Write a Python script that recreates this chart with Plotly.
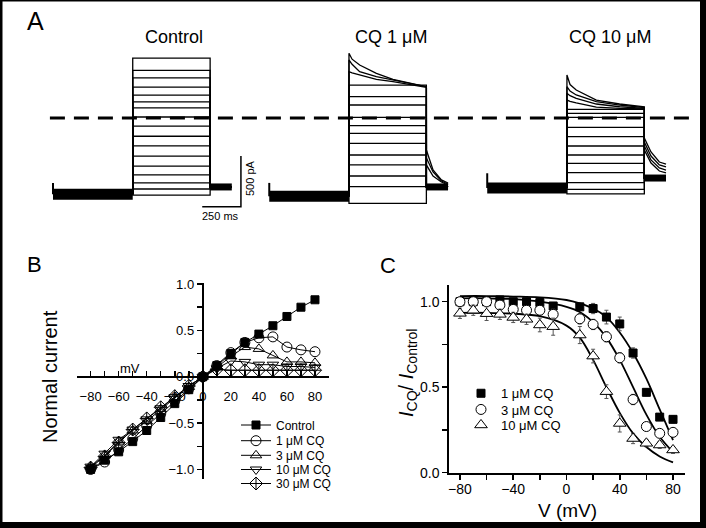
import plotly.graph_objects as go

W, H = 706, 528
def fx(px): return px / W
def fy(py): return 1 - py / H

FONT = "Liberation Sans, Arial, sans-serif"

# ---------------- Panel A data (ms, pA) ----------------
protocol_ms = [0, 515, 1015, 1155]          # sweep start, step on, step off, sweep end
group_names = ["Control", "CQ 1 μM", "CQ 10 μM"]
group_start_ms = [0, 1397, 2805]
holding_pA = [-752, -772, -690]
spike_pA = [-640, -640, -545]
tail_pA = [-680, -680, -592]

control_steps_pA = [590, 470, 395, 305, 225, 160, 100, 10, -80, -180, -275, -375, -475, -560, -640, -700, -760]
cq1_steps_pA = [325, 210, 128, 7, -76, -151, -250, -365, -463, -572, -677, -841]
cq10_steps_pA = [85, 45, 7, -92, -184, -276, -365, -447, -539, -638, -703, -749]

cq1_decay_t = [0, 20, 69, 177, 284, 500]
cq1_decay_pA = [[638, 580, 523, 441, 382, 309],
                [572, 530, 457, 407, 375, 309],
                [457, 445, 424, 382, 359, 303]]
cq1_tail_t = [0, 43, 97, 140]
cq1_tail_pA = [[-316, -513, -611, -641],
               [-394, -532, -621, -651],
               [-463, -572, -631, -661]]

cq10_decay_t = [0, 20, 60, 190, 340, 500]
cq10_decay_pA = [[424, 330, 276, 177, 138, 111],
                 [309, 265, 227, 161, 128, 102],
                 [244, 220, 194, 138, 111, 96],
                 [177, 165, 148, 108, 94, 89]]
cq10_tail_t = [0, 43, 97, 140]
cq10_tail_pA = [[-197, -335, -434, -454],
                [-237, -375, -463, -483],
                [-276, -414, -493, -513],
                [-316, -444, -523, -542]]

zero_line_ms = [-20, 4130]
scalebar_ms = [964, 1214, 1214]
scalebar_pA = [-875, -875, -375]

# ---------------- Panel B data ----------------
iv_mV = [-80, -70, -60, -50, -40, -30, -20, -10, 0, 10, 20, 30, 40, 50, 60, 70, 80]
iv_series = ["Control", "1 μM CQ", "3 μM CQ", "10 μM CQ", "30 μM CQ"]
iv_control = [-1.0, -0.9, -0.81, -0.7, -0.58, -0.44, -0.29, -0.14, 0, 0.12, 0.25, 0.37, 0.46, 0.55, 0.65, 0.75, 0.83]
iv_cq1 = [-1.0, -0.92, -0.79, -0.67, -0.53, -0.40, -0.26, -0.13, 0, 0.12, 0.26, 0.37, 0.42, 0.43, 0.32, 0.29, 0.27]
iv_cq3 = [-0.97, -0.85, -0.7, -0.58, -0.48, -0.35, -0.23, -0.11, 0, 0.1, 0.22, 0.32, 0.3, 0.23, 0.16, 0.16, 0.15]
iv_cq10 = [-0.97, -0.83, -0.68, -0.57, -0.46, -0.34, -0.22, -0.1, 0, 0.09, 0.17, 0.16, 0.13, 0.13, 0.11, 0.11, 0.1]
iv_cq30 = [-0.98, -0.86, -0.71, -0.57, -0.45, -0.33, -0.21, -0.1, 0, 0.08, 0.07, 0.07, 0.07, 0.07, 0.07, 0.07, 0.07]

# ---------------- Panel C data ----------------
ratio_mV = [-80, -70, -60, -50, -40, -30, -20, -10, 10, 20, 30, 40, 50, 60, 70, 80]
ratio_series = ["1 μM CQ", "3 μM CQ", "10 μM CQ"]
ratio_cq1 = [1.0, 1.0, 1.0, 1.01, 1.0, 1.0, 0.995, 0.975, 0.97, 0.96, 0.91, 0.87, 0.70, 0.47, 0.325, 0.312]
ratio_cq3 = [1.0, 1.0, 1.0, 0.98, 0.955, 0.95, 0.95, 0.926, 0.90, 0.867, 0.795, 0.672, 0.428, 0.27, 0.23, 0.236]
ratio_cq10 = [0.932, 0.95, 0.93, 0.926, 0.908, 0.897, 0.864, 0.854, 0.805, 0.682, 0.474, 0.288, 0.2, 0.172, 0.162, 0.133]
err_cq1 = [0.01, 0.01, 0.01, 0.01, 0.01, 0.01, 0.02, 0.02, 0.02, 0.03, 0.04, 0.04, 0.03, 0.02, 0.02, 0.02]
err_cq3 = [0.01, 0.01, 0.01, 0.02, 0.02, 0.02, 0.02, 0.03, 0.03, 0.03, 0.03, 0.03, 0.03, 0.02, 0.02, 0.02]
err_cq10 = [0.03, 0.03, 0.04, 0.03, 0.03, 0.03, 0.04, 0.05, 0.05, 0.04, 0.04, 0.05, 0.03, 0.02, 0.02, 0.02]

fit_mV = [-80, -60, -40, -20, 0, 10, 20, 30, 40, 50, 60, 70, 80]
fit_cq1 = [1.033, 1.033, 1.03, 1.025, 1.01, 0.99, 0.96, 0.91, 0.82, 0.70, 0.55, 0.37, 0.19]
fit_cq3 = [1.02, 1.02, 1.015, 1.0, 0.97, 0.94, 0.88, 0.79, 0.66, 0.5, 0.34, 0.21, 0.12]
fit_cq10 = [0.935, 0.935, 0.93, 0.915, 0.86, 0.79, 0.66, 0.5, 0.35, 0.23, 0.15, 0.095, 0.06]

fig = go.Figure()

# ---------------- Panel A traces ----------------
t0, ton, toff, tend = protocol_ms
BLK = "black"

def add_a(x, y, width=1.3, dash=None):
    fig.add_trace(go.Scatter(x=x, y=y, mode="lines", xaxis="x", yaxis="y",
                             line=dict(color=BLK, width=width, dash=dash),
                             showlegend=False, hoverinfo="skip"))

flat_sets = [control_steps_pA, cq1_steps_pA, cq10_steps_pA]
decay_sets = [([], [], [], []), (cq1_decay_t, cq1_decay_pA, cq1_tail_t, cq1_tail_pA),
              (cq10_decay_t, cq10_decay_pA, cq10_tail_t, cq10_tail_pA)]

for g in range(3):
    s = group_start_ms[g]
    hold, tail = holding_pA[g], tail_pA[g]
    add_a([s + t0, s + ton], [hold, hold], width=11)
    add_a([s + toff, s + tend], [tail, tail], width=7)
    add_a([s + t0, s + t0], [spike_pA[g], hold], width=2)
    xs, ys = [], []
    for lvl in flat_sets[g]:
        xs += [s + ton, s + ton, s + toff, s + toff, s + tend, None]
        ys += [hold, lvl, lvl, tail, tail, None]
    dt, dv, tt, tv = decay_sets[g]
    for k in range(len(dv)):
        xs += [s + ton] + [s + ton + t for t in dt] + [s + toff + t for t in tt] + [None]
        ys += [hold] + dv[k] + tv[k] + [None]
    add_a(xs, ys, width=1.3)

add_a(zero_line_ms, [0, 0], width=3, dash="15px,9px")
add_a(scalebar_ms, scalebar_pA, width=1.5)

# ---------------- Panel B traces ----------------
iv_values = [iv_control, iv_cq1, iv_cq3, iv_cq10, iv_cq30]
iv_symbols = ["square", "circle-open", "triangle-up-open", "triangle-down-open", "diamond-cross-open"]
iv_sizes = [8, 10, 10, 10, 10]
for i, name in enumerate(iv_series):
    fig.add_trace(go.Scatter(
        x=iv_mV, y=iv_values[i], name=name, mode="lines+markers",
        xaxis="x2", yaxis="y2", legend="legend" if i == 0 else f"legend{i + 1}",
        line=dict(color=BLK, width=1),
        marker=dict(symbol=iv_symbols[i], size=iv_sizes[i], color=BLK,
                    line=dict(color=BLK, width=1)),
        hoverinfo="skip"))

# ---------------- Panel C traces ----------------
for fit in [fit_cq1, fit_cq3, fit_cq10]:
    fig.add_trace(go.Scatter(x=fit_mV, y=fit, mode="lines", xaxis="x3", yaxis="y3",
                             line=dict(color=BLK, width=1.8, shape="spline", smoothing=1),
                             showlegend=False, hoverinfo="skip"))

ratio_values = [ratio_cq1, ratio_cq3, ratio_cq10]
ratio_err = [err_cq1, err_cq3, err_cq10]
ratio_symbols = ["square", "circle", "triangle-up"]
ratio_fill = [BLK, "white", "white"]
ratio_sizes = [8, 10, 11]
for i, name in enumerate(ratio_series):
    fig.add_trace(go.Scatter(
        x=ratio_mV, y=ratio_values[i], name=name, mode="markers",
        xaxis="x3", yaxis="y3", legend=f"legend{i + 6}",
        error_y=dict(type="data", array=ratio_err[i], color="#555", thickness=1, width=2),
        marker=dict(symbol=ratio_symbols[i], size=ratio_sizes[i], color=ratio_fill[i],
                    line=dict(color=BLK, width=1)),
        hoverinfo="skip"))

# ---------------- Layout ----------------
tickfont_b = dict(family=FONT, size=13, color=BLK)
tickfont_c = dict(family=FONT, size=14, color=BLK)
common = dict(showline=True, linecolor=BLK, linewidth=2, showgrid=False, zeroline=False,
              tickmode="linear", tick0=0, tickwidth=1.5, tickcolor=BLK, ticklen=5,
              automargin=False, fixedrange=True)

layout = dict(
    width=W, height=H, autosize=False, template="none",
    margin=dict(l=0, r=0, t=0, b=0, pad=0, autoexpand=False),
    paper_bgcolor="black", plot_bgcolor="rgba(0,0,0,0)",
    font=dict(family=FONT, color=BLK),
    xaxis=dict(domain=[0, 1], range=[-342.4, 4218.3], visible=False, fixedrange=True, automargin=False),
    yaxis=dict(domain=[fy(228), 1], range=[-1084.8, 1163.7], visible=False, fixedrange=True, automargin=False),
    xaxis2=dict(domain=[fx(76.6), fx(329)], range=[-90, 90], anchor="free", position=fy(376.7),
                dtick=20, ticks="inside", tickfont=tickfont_b, ticklabelstandoff=8,
                minor=dict(dtick=10, tick0=0, ticks="inside", ticklen=5, tickwidth=1.5, tickcolor=BLK),
                **common),
    yaxis2=dict(domain=[fy(478.7), fy(283.1)], range=[-1.1, 1.01], anchor="free", position=fx(202.8),
                dtick=0.5, tickformat=".1f", ticks="outside", tickfont=tickfont_b,
                minor=dict(dtick=0.25, tick0=0, ticks="outside", ticklen=5, tickwidth=1.5, tickcolor=BLK),
                **common),
    xaxis3=dict(domain=[fx(449.3), fx(685)], range=[-88, 89], anchor="y3",
                dtick=40, ticks="outside", tickfont=tickfont_c, ticklabelstandoff=-3,
                minor=dict(dtick=20, tick0=0, ticks="outside", ticklen=5, tickwidth=1.5, tickcolor=BLK),
                **common),
    yaxis3=dict(domain=[fy(472.7), fy(284.6)], range=[0, 1.1], anchor="x3",
                dtick=0.5, tickformat=".1f", ticks="outside", tickfont=tickfont_c,
                minor=dict(dtick=0.25, tick0=0, ticks="outside", ticklen=5, tickwidth=1.5, tickcolor=BLK),
                **common),
    shapes=[dict(type="rect", xref="paper", yref="paper", x0=fx(2.5), x1=fx(700), y0=fy(522), y1=fy(1.5),
                 fillcolor="white", line=dict(width=0), layer="below")],
)

def legend_at(px, py, size):
    return dict(x=fx(px), y=fy(py), xanchor="left", yanchor="middle", bgcolor="rgba(0,0,0,0)",
                borderwidth=0, itemwidth=30, tracegroupgap=0,
                font=dict(family=FONT, size=size, color=BLK))

b_rows = [425, 440.7, 455.3, 469.5, 483.5]
for i, py in enumerate(b_rows):
    layout["legend" if i == 0 else f"legend{i + 1}"] = legend_at(236, py, 12)
c_rows = [393.3, 409.5, 425]
for i, py in enumerate(c_rows):
    layout[f"legend{i + 6}"] = legend_at(461, py, 13)

fig.update_layout(**layout)

def ann(px, py, text, size, angle=0, anchor="center"):
    fig.add_annotation(x=fx(px), y=fy(py), xref="paper", yref="paper", text=text, showarrow=False,
                       xanchor=anchor, yanchor="middle", textangle=angle,
                       font=dict(family=FONT, size=size, color=BLK))

ann(35, 21, "A", 25)
ann(34, 264, "B", 22)
ann(388, 265, "C", 22)
for name, px in zip(group_names, [174, 391, 610]):
    ann(px, 37, name, 18)
ann(250, 178, "500 pA", 11, angle=-90)
ann(221, 216, "250 ms", 11)
ann(130, 368, "mV", 13)
ann(50, 377, "Normal current", 20, angle=-90)
ann(407, 373, "<i>I</i><sub>CQ</sub>/ <i>I</i><sub>Control</sub>", 20, angle=-90)
ann(567, 510, "V (mV)", 19)

fig.write_html("out.html", config={"displayModeBar": False, "staticPlot": True},
               post_script="document.body.style.margin='0';document.body.style.padding='0';"
                           "document.body.style.overflow='hidden';")
